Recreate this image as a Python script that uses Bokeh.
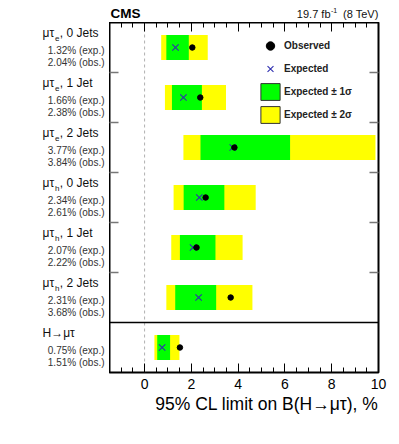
from bokeh.plotting import figure
from bokeh.layouts import column, row
from bokeh.models import (Range1d, LinearAxis, FixedTicker, Span, Legend,
                          LegendItem, ColumnDataSource, Title)
from bokeh.core.properties import value
from bokeh.embed import file_html
from bokeh.resources import INLINE

# ---- data ----
channels = ["μτ", "μτ", "μτ", "μτ", "μτ", "μτ", "H→μτ"]
subscripts = ["e", "e", "e", "h", "h", "h", ""]
jets = [", 0 Jets", ", 1 Jet", ", 2 Jets", ", 0 Jets", ", 1 Jet", ", 2 Jets", ""]
expected = [1.32, 1.66, 3.77, 2.34, 2.07, 2.31, 0.75]
observed = [2.04, 2.38, 3.84, 2.61, 2.22, 3.68, 1.51]
minus2 = [0.71, 0.87, 1.66, 1.24, 1.14, 0.93, 0.42]
minus1 = [0.93, 1.17, 2.39, 1.67, 1.51, 1.31, 0.54]
plus1 = [1.89, 2.45, 6.22, 3.41, 3.03, 3.06, 1.09]
plus2 = [2.70, 3.48, 9.87, 4.75, 4.19, 4.61, 1.49]
x_ticks = [0, 2, 4, 6, 8, 10]
exp_text = [f"{v:.2f}% (exp.)" for v in expected]
obs_text = [f"{v:.2f}% (obs.)" for v in observed]
header_left = "CMS"
lumi_main, lumi_sup, lumi_energy = "19.7 fb", "-1", "(8 TeV)"
x_title = "95% CL limit on B(H→μτ), %"
legend_labels = ["Observed", "Expected", "Expected ± 1σ", "Expected ± 2σ"]

n = len(expected)
ypos = [n - 0.5 - i for i in range(n)]
FONT = "Liberation Sans"
NAN = float("nan")

common = dict(output_backend="svg", toolbar_location=None,
              x_axis_location=None, y_axis_location=None,
              background_fill_color="white", border_fill_color="white")

# ---- main plot ----
p = figure(frame_width=269, frame_height=350,
           x_range=Range1d(-1.5, 10), y_range=Range1d(0, n),
           min_border_left=0, min_border_right=15, min_border_top=0,
           min_border_bottom=60,
           outline_line_color="black", outline_line_width=2, **common)
for g in p.grid:
    g.visible = False

src = ColumnDataSource(dict(y=ypos, exp=expected, obs=observed,
                            m2=minus2, m1=minus1, p1=plus1, p2=plus2))

p.add_layout(Span(location=0, dimension="height", line_color="#b0b0b0",
                  line_dash="3 3", line_width=1, level="underlay"))

r2 = p.hbar(y="y", left="m2", right="p2", height=0.5, fill_color="#ffff00",
            line_color=None, source=src)
r1 = p.hbar(y="y", left="m1", right="p1", height=0.5, fill_color="#00ff00",
            line_color=None, source=src)
r_exp = p.scatter(x="exp", y="y", marker="x", size=9, line_color="#2f2fb0",
                  line_width=1.1, source=src)
r_obs = p.scatter(x="obs", y="y", marker="circle", size=5.5, fill_color="black",
                  line_color="black", source=src)

p.add_layout(Span(location=1, dimension="width", line_color="black",
                  line_width=1.5))

minor = [-1.5 + 0.5 * k for k in range(24)]
xt = FixedTicker(ticks=x_ticks, minor_ticks=minor)
xb = LinearAxis(ticker=xt, axis_line_color=None,
                major_tick_in=9, major_tick_out=0, minor_tick_in=5, minor_tick_out=0,
                major_tick_line_color="black", minor_tick_line_color="black",
                major_label_text_font=FONT, major_label_text_font_size="14px",
                major_label_text_color="black", major_label_standoff=6)
p.add_layout(xb, "below")
p.add_layout(Title(text=x_title, align="right", text_font=FONT,
                   text_font_size="17.5px", text_font_style="normal",
                   text_color="black", standoff=1), "below")


def hidden_axis(ticker, tick_color, tick_width):
    return LinearAxis(ticker=ticker, axis_line_color=None,
                      major_tick_in=9, major_tick_out=0,
                      minor_tick_in=5, minor_tick_out=0,
                      major_tick_line_color=tick_color, major_tick_line_width=tick_width,
                      minor_tick_line_color=tick_color,
                      major_label_text_font_size="0px", major_label_text_color=None,
                      major_label_standoff=0)


p.add_layout(hidden_axis(xt, "black", 1), "above")
yt = FixedTicker(ticks=[2, 3, 4, 5, 6], minor_ticks=[])
p.add_layout(hidden_axis(yt, "#777777", 1.5), "left")
p.add_layout(hidden_axis(yt, "#777777", 1.5), "right")

# legend proxies (no visible marks)
l_1s = p.quad(left=[NAN], right=[NAN], top=[NAN], bottom=[NAN], fill_color="#00ff00",
              line_color="#333333", line_width=1)
l_2s = p.quad(left=[NAN], right=[NAN], top=[NAN], bottom=[NAN], fill_color="#ffff00",
              line_color="#333333", line_width=1)
legend = Legend(items=[LegendItem(label=legend_labels[0], renderers=[r_obs]),
                       LegendItem(label=legend_labels[1], renderers=[r_exp]),
                       LegendItem(label=legend_labels[2], renderers=[l_1s]),
                       LegendItem(label=legend_labels[3], renderers=[l_2s])],
                location=(149, 247), padding=0, margin=0, spacing=2,
                glyph_width=24, glyph_height=21, label_height=21, label_standoff=2,
                border_line_color=None, background_fill_alpha=0,
                label_text_font=FONT, label_text_font_size="10px",
                label_text_font_style="bold", label_text_color="#222222")
p.add_layout(legend)

# ---- left label panel (shares y scale) ----
left = figure(frame_width=109, frame_height=350, x_range=Range1d(0, 109),
              y_range=p.y_range, min_border=0, outline_line_color=None, **common)
for g in left.grid:
    g.visible = False
lsrc = ColumnDataSource(dict(y=ypos, ch=channels, sub=subscripts, jets=jets,
                             et=exp_text, ot=obs_text))
left.text(x=42, y="y", text="ch", source=lsrc, y_offset=-14.5,
          text_font=value(FONT), text_font_size="12px", text_color="#111111",
          text_align="left", text_baseline="middle")
left.text(x=54.6, y="y", text="sub", source=lsrc, y_offset=-9,
          text_font=value(FONT), text_font_size="8px", text_color="#111111",
          text_align="left", text_baseline="middle")
left.text(x=59.3, y="y", text="jets", source=lsrc, y_offset=-14.5,
          text_font=value(FONT), text_font_size="12px", text_color="#111111",
          text_align="left", text_baseline="middle")
left.text(x=104, y="y", text="et", source=lsrc, y_offset=2.5,
          text_font=value(FONT), text_font_size="10px", text_color="#333333",
          text_align="right", text_baseline="middle")
left.text(x=104, y="y", text="ot", source=lsrc, y_offset=14.5,
          text_font=value(FONT), text_font_size="10px", text_color="#333333",
          text_align="right", text_baseline="middle")

# ---- header panel ----
head = figure(frame_width=393, frame_height=22, x_range=Range1d(0, 393),
              y_range=Range1d(22, 0), min_border=0, outline_line_color=None, **common)
for g in head.grid:
    g.visible = False
head.text(x=[110], y=[12.5], text=[header_left], text_font=value(FONT),
          text_font_size="13.5px", text_font_style="bold", text_color="black",
          text_align="left", text_baseline="middle")
head.text(x=[330], y=[13], text=[lumi_main], text_font=value(FONT),
          text_font_size="11px", text_color="#111111",
          text_align="right", text_baseline="middle")
head.text(x=[330.5], y=[9.5], text=[lumi_sup], text_font=value(FONT),
          text_font_size="7px", text_color="#111111",
          text_align="left", text_baseline="middle")
head.text(x=[378], y=[13], text=[lumi_energy], text_font=value(FONT),
          text_font_size="11px", text_color="#111111",
          text_align="right", text_baseline="middle")

layout = column(head, row(left, p, spacing=0), spacing=0)
open("out.html", "w").write(file_html(layout, INLINE))
